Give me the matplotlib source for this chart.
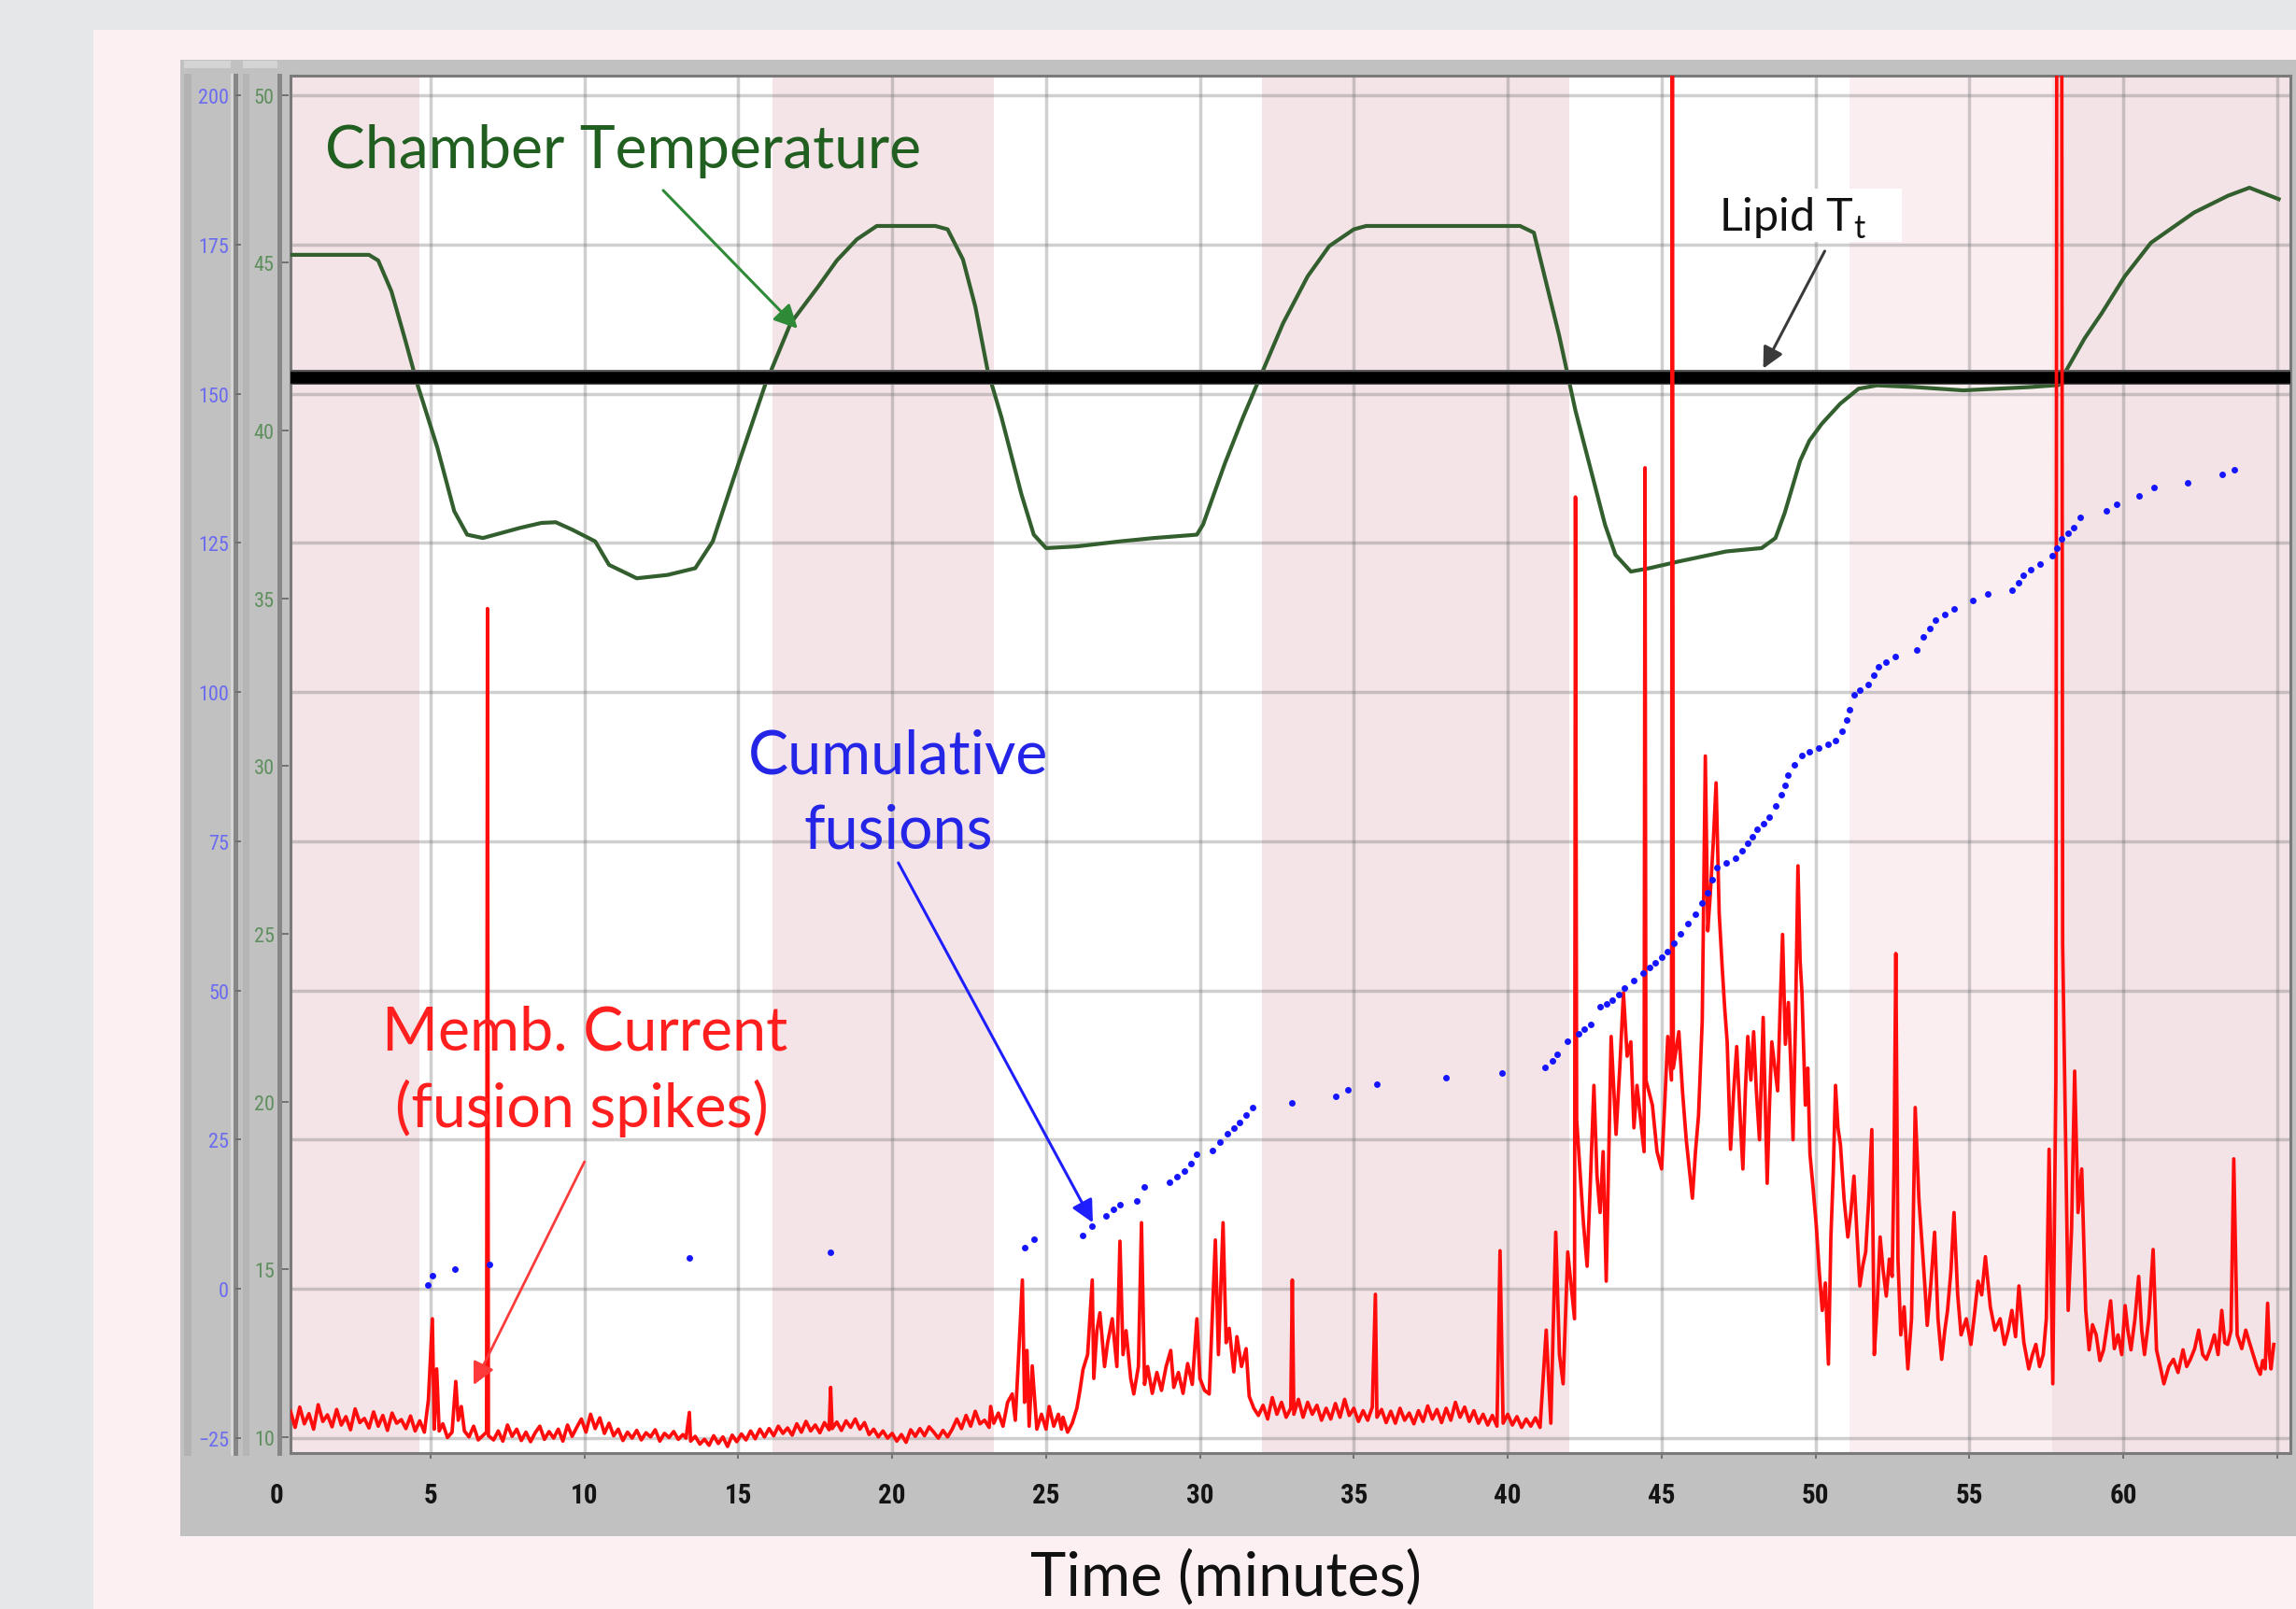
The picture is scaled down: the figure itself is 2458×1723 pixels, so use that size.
import matplotlib.pyplot as plt
from matplotlib.patches import Rectangle
from matplotlib import font_manager

W, H = 2458, 1724

# chamber temperature (deg C) vs time (min)
temp_t = [0.45, 3.0, 3.3, 3.73, 4.16, 4.58, 5.22, 5.77, 6.19, 6.7,
          7.9, 8.6, 9.07, 9.6, 10.35, 10.8, 11.7, 12.7, 13.6, 14.17,
          15.0, 15.87, 16.7, 17.6, 18.2, 18.85, 19.5, 21.4, 21.8, 22.3,
          22.7, 23.1, 23.55, 24.2, 24.6, 25.0, 26.0, 27.4, 28.5, 29.9,
          30.1, 30.8, 31.4, 32.05, 32.7, 33.5, 34.2, 35.0, 35.4, 40.4,
          40.85, 41.67, 42.2, 42.85, 43.16, 43.5, 44.0, 44.6, 45.55, 47.1,
          48.25, 48.7, 49.0, 49.5, 49.8, 50.2, 50.8, 51.4, 52.0, 53.2,
          54.8, 57.0, 57.9, 58.15, 58.75, 59.3, 60.05, 60.9, 62.3, 63.4,
          64.1, 65.05]
temp_c = [45.24, 45.24, 45.07, 44.15, 42.76, 41.36, 39.5, 37.6, 36.9, 36.8,
          37.1, 37.25, 37.27, 37.05, 36.7, 36.0, 35.6, 35.7, 35.9, 36.7,
          39.0, 41.36, 43.2, 44.3, 45.07, 45.7, 46.1, 46.1, 46.0, 45.1,
          43.7, 41.8, 40.4, 38.1, 36.9, 36.5, 36.55, 36.7, 36.8, 36.9,
          37.2, 39.0, 40.4, 41.8, 43.2, 44.6, 45.5, 46.0, 46.1, 46.1,
          45.9, 42.84, 40.6, 38.3, 37.2, 36.3, 35.8, 35.9, 36.1, 36.4,
          36.5, 36.8, 37.55, 39.1, 39.7, 40.2, 40.8, 41.25, 41.35, 41.3,
          41.2, 41.3, 41.36, 41.8, 42.76, 43.5, 44.6, 45.6, 46.5, 47.0,
          47.24, 46.9]

# cumulative fusions
fus_t = [4.9, 5.07, 5.8, 6.9, 13.4, 18.0, 24.3, 24.6, 26.2, 26.5,
         26.95, 27.2, 27.4, 27.95, 28.2, 29.0, 29.25, 29.5, 29.7, 29.9,
         30.4, 30.65, 30.9, 31.1, 31.3, 31.5, 31.7, 33.0, 34.4, 34.8,
         35.75, 38.0, 39.8, 41.2, 41.45, 41.6, 41.95, 42.3, 42.5, 42.7,
         43.0, 43.2, 43.4, 43.6, 43.8, 44.1, 44.4, 44.6, 44.8, 45.0,
         45.2, 45.4, 45.6, 45.85, 46.1, 46.3, 46.5, 46.65, 46.8, 47.1,
         47.4, 47.6, 47.8, 47.95, 48.1, 48.3, 48.5, 48.7, 48.9, 49.0,
         49.1, 49.3, 49.55, 49.8, 50.1, 50.4, 50.65, 50.85, 51.0, 51.1,
         51.25, 51.45, 51.7, 51.9, 52.05, 52.3, 52.6, 53.3, 53.5, 53.7,
         53.9, 54.2, 54.5, 55.1, 55.6, 56.4, 56.6, 56.75, 57.0, 57.3,
         57.7, 57.85, 58.0, 58.2, 58.4, 58.6, 59.45, 59.8, 60.5, 61.0,
         62.1, 63.2, 63.6]
fus_n = [0.6, 2.2, 3.3, 4.1, 5.2, 6.1, 6.9, 8.4, 9.0, 10.6,
         12.2, 13.3, 14.2, 14.7, 17.1, 17.8, 18.8, 19.7, 21.0, 22.5,
         23.2, 24.6, 26.0, 27.0, 27.9, 29.2, 30.4, 31.1, 32.2, 33.3,
         34.3, 35.4, 36.2, 37.2, 38.2, 39.3, 41.5, 42.7, 43.5, 44.3,
         47.3, 47.8, 48.4, 49.4, 50.4, 51.7, 52.9, 53.8, 54.6, 55.6,
         56.6, 58.0, 59.5, 61.2, 62.8, 64.6, 66.4, 68.5, 70.6, 71.4,
         72.1, 73.4, 74.6, 75.8, 77.0, 78.0, 79.0, 80.9, 82.8, 84.4,
         86.1, 87.8, 89.4, 90.0, 90.6, 91.2, 91.9, 93.4, 95.3, 97.0,
         99.5, 100.4, 101.3, 102.8, 104.2, 105.0, 105.9, 107.0, 109.2, 110.6,
         112.0, 113.0, 113.9, 115.3, 116.4, 117.1, 118.4, 119.6, 120.5, 121.4,
         122.8, 124.2, 125.7, 126.6, 127.5, 129.3, 130.4, 131.5, 132.9, 134.3,
         135.1, 136.5, 137.2]

# membrane current (arbitrary units)
cur_t = [0.45, 0.6, 0.75, 0.9, 1.05, 1.2, 1.35, 1.5, 1.65, 1.8,
         1.95, 2.1, 2.25, 2.4, 2.55, 2.7, 2.85, 3.0, 3.15, 3.3,
         3.45, 3.6, 3.75, 3.9, 4.05, 4.2, 4.35, 4.5, 4.65, 4.8,
         4.93, 5.06, 5.12, 5.2, 5.28, 5.4, 5.55, 5.7, 5.82, 5.9,
         6.0, 6.1, 6.25, 6.4, 6.55, 6.82, 6.85, 6.88, 7.05, 7.2,
         7.35,
         7.5, 7.65, 7.8, 7.95, 8.1, 8.25, 8.4, 8.55, 8.7, 8.85,
         9.0, 9.15, 9.3, 9.45, 9.6, 9.75, 9.9, 10.05, 10.2, 10.35,
         10.5, 10.65, 10.8, 10.95, 11.1, 11.25, 11.4, 11.55, 11.7, 11.85,
         12.0, 12.15, 12.3, 12.45, 12.6, 12.75, 12.9, 13.05, 13.2, 13.3,
         13.41, 13.45, 13.6, 13.75, 13.9, 14.05, 14.2, 14.35, 14.5, 14.65,
         14.8, 14.95, 15.1, 15.25, 15.4, 15.55, 15.7, 15.85, 16.0, 16.15,
         16.3, 16.45, 16.6, 16.75, 16.9, 17.05, 17.2, 17.35, 17.5, 17.65,
         17.8, 17.95, 18.0, 18.05, 18.2, 18.35, 18.5, 18.65, 18.8, 18.95,
         19.1, 19.25, 19.4, 19.55, 19.7, 19.85, 20.0, 20.15, 20.3, 20.45,
         20.6, 20.75, 20.9, 21.05, 21.2, 21.35, 21.5, 21.65, 21.8, 21.95,
         22.1, 22.25, 22.4, 22.55, 22.7, 22.85, 23.0, 23.15, 23.2, 23.3,
         23.45, 23.6, 23.75, 23.9, 24.0, 24.1, 24.23, 24.3, 24.38, 24.45,
         24.55, 24.7, 24.85, 25.0, 25.1, 25.25, 25.4, 25.5, 25.55, 25.7,
         25.85, 26.0,
         26.1, 26.2, 26.35, 26.5, 26.55, 26.65, 26.75, 26.9, 27.0, 27.15,
         27.3, 27.4, 27.5, 27.6, 27.75, 27.85, 28.0, 28.1, 28.2, 28.3,
         28.45, 28.6, 28.75, 28.9, 29.05, 29.15, 29.3, 29.45, 29.6, 29.75,
         29.9, 30.0, 30.15, 30.3, 30.5, 30.6, 30.75, 30.85, 30.95, 31.1,
         31.2, 31.35, 31.5, 31.6, 31.75, 31.9,
         32.05, 32.2, 32.35, 32.5, 32.65, 32.8, 32.95, 33.0, 33.05, 33.2,
         33.35, 33.5, 33.65, 33.8, 33.95, 34.1, 34.25, 34.4, 34.55, 34.7,
         34.85, 35.0, 35.15, 35.3, 35.45, 35.6, 35.7, 35.75, 35.9, 36.05,
         36.2, 36.35, 36.5, 36.65, 36.8, 36.95, 37.1, 37.25, 37.4, 37.55,
         37.7, 37.85, 38.0, 38.15, 38.3, 38.45, 38.6, 38.75, 38.9, 39.05,
         39.2, 39.35, 39.5, 39.65, 39.75, 39.85, 40.0, 40.15, 40.3, 40.45,
         40.6, 40.75, 40.9, 41.05,
         41.25, 41.4, 41.48, 41.56, 41.68, 41.8, 41.95, 42.17, 42.2, 42.24,
         42.46, 42.58, 42.7, 42.8, 42.9, 43.0, 43.1, 43.2, 43.36, 43.52,
         43.64, 43.76, 43.88, 44.0, 44.1, 44.2, 44.43, 44.46, 44.49, 44.7,
         44.85, 45.0, 45.1, 45.2, 45.32, 45.35, 45.38, 45.56, 45.68, 45.8,
         46.0, 46.1, 46.2, 46.32, 46.42, 46.5, 46.58, 46.68, 46.77, 46.87,
         46.97, 47.05, 47.13, 47.24, 47.34, 47.44, 47.54, 47.64, 47.72, 47.8,
         47.9, 47.99, 48.08, 48.18, 48.3, 48.43, 48.5, 48.58, 48.68, 48.77,
         48.85, 48.93, 49.02, 49.12, 49.2, 49.27, 49.35, 49.43, 49.5, 49.56,
         49.67, 49.75, 49.82, 49.92, 50.03, 50.12, 50.22, 50.32, 50.42, 50.5,
         50.58, 50.65, 50.73, 50.81, 50.93, 51.05, 51.15, 51.25, 51.35, 51.44,
         51.54, 51.63, 51.73, 51.83, 51.91, 52.0, 52.1, 52.2, 52.3, 52.4,
         52.49, 52.55, 52.61, 52.68, 52.77, 52.88, 53.0, 53.12, 53.24, 53.36,
         53.48, 53.56, 53.63, 53.75, 53.87, 53.98, 54.1, 54.2, 54.29, 54.4,
         54.5, 54.62, 54.73, 54.9, 55.05, 55.17, 55.28, 55.4, 55.52, 55.68,
         55.83, 56.0, 56.14, 56.26, 56.38, 56.5, 56.61, 56.77, 56.93, 57.05,
         57.16, 57.28, 57.4, 57.5, 57.59, 57.71, 57.81, 57.84, 57.92, 58.0,
         58.03, 58.21, 58.32, 58.42, 58.53, 58.65, 58.78, 58.89, 59.0, 59.12,
         59.24, 59.36, 59.48, 59.59, 59.71, 59.83, 59.95, 60.06, 60.15, 60.25,
         60.38, 60.5, 60.6, 60.69, 60.83, 60.97, 61.08, 61.2, 61.32, 61.48,
         61.63, 61.78, 61.94, 62.06, 62.18, 62.32, 62.45, 62.58, 62.7, 62.83,
         62.96, 63.08, 63.2, 63.3, 63.39, 63.5, 63.59, 63.7, 63.85, 63.98,
         64.1, 64.22, 64.34, 64.45, 64.53, 64.61, 64.69, 64.75, 64.8, 64.89]
cur_v = [4.5, 1.8, 5.2, 2.4, 4.1, 1.5, 5.6, 2.8, 3.9, 1.9,
         4.8, 2.2, 3.6, 1.4, 4.9, 2.6, 3.3, 1.7, 4.4, 2.0,
         3.8, 1.3, 4.2, 2.5, 3.1, 1.6, 3.7, 1.2, 2.9, 1.0,
         6.4, 20.0, 1.5, 11.6, 1.2, 2.4, 0.1, 1.0, 9.5, 3.0,
         5.3, 1.2, 0.2, 2.0, -0.3, 1.0, 139.0, 0.4, -0.3, 1.2,
         -0.5,
         2.2, 0.3, 1.5, -0.4, 1.0, -0.6, 0.9, 2.0, -0.2, 1.1,
         0.0, 1.5, -0.5, 2.2, 0.3, 1.8, 3.2, 1.0, 4.0, 1.6,
         3.4, 0.8, 2.5, 0.4, 1.5, -0.4, 1.0, 0.0, 1.3, -0.3,
         0.9, 0.2, 1.4, -0.5, 0.8, 0.1, 1.1, -0.2, 0.6, 0.0,
         4.3, -0.5, 0.3, -1.0, -0.2, -1.2, 0.4, -0.9, 0.2, -1.4,
         0.5, -0.6, 0.7, -0.3, 1.2, -0.1, 1.5, 0.2, 1.6, 0.4,
         2.0, 0.8, 1.7, 0.5, 2.4, 1.0, 2.8, 1.2, 2.2, 0.9,
         2.6, 1.4, 8.5, 1.6, 2.7, 1.3, 2.9, 1.8, 3.2, 1.5,
         2.6, 0.6, 1.5, 0.2, 1.2, 0.0, 0.8, -0.5, 0.6, -0.7,
         1.4, 0.3, 1.6, 0.4, 1.9, 1.0, 0.0, 1.3, 0.2, 1.5,
         3.2, 1.6, 3.8, 2.0, 4.5, 2.4, 3.0, 1.8, 5.3, 2.5,
         4.2, 2.0, 6.0, 7.4, 3.0, 13.0, 26.5, 6.0, 14.7, 2.0,
         12.1, 1.5, 4.0, 1.5, 5.3, 2.0, 4.0, 1.5, 3.5, 1.0,
         2.5, 5.0,
         8.0, 11.5, 14.0, 26.5, 10.0, 18.0, 21.0, 12.0, 16.0, 20.0,
         12.0, 33.0, 14.0, 18.0, 10.0, 7.4, 12.0, 36.1, 9.0, 12.0,
         7.5, 11.0, 8.0, 12.0, 14.7, 8.5, 11.0, 7.5, 12.5, 9.0,
         20.0, 10.0, 8.0, 7.4, 33.2, 14.0, 36.1, 16.0, 18.4, 11.1,
         17.0, 12.0, 15.0, 7.0, 5.0, 3.8,
         5.5, 3.2, 6.8, 4.0, 6.0, 3.5, 5.0, 26.5, 4.0, 6.5,
         3.5, 6.0, 4.0, 5.5, 3.0, 5.0, 3.2, 5.8, 3.5, 6.5,
         3.8, 5.0, 2.8, 4.6, 3.0, 5.2, 24.1, 3.5, 4.8, 2.6,
         4.5, 2.5, 5.0, 3.0, 4.2, 2.4, 4.6, 2.8, 5.4, 3.2,
         4.8, 2.6, 5.0, 3.0, 6.0, 3.5, 5.2, 2.8, 4.6, 2.5,
         4.0, 2.2, 3.8, 2.0, 31.4, 2.5, 4.0, 2.2, 3.6, 1.8,
         3.2, 2.0, 3.4, 1.8,
         18.1, 2.5, 19.0, 34.5, 14.0, 9.1, 31.2, 20.0, 157.7, 53.3,
         36.0, 28.8, 45.0, 59.1, 44.0, 37.8, 48.0, 26.3, 67.3, 50.9,
         62.0, 74.6, 64.0, 66.4, 52.0, 59.1, 48.0, 162.6, 60.0, 55.8,
         48.0, 45.1, 56.0, 67.3, 60.0, 240.0, 62.0, 68.1, 58.0, 50.0,
         40.2, 48.0, 54.1, 70.0, 114.3, 85.0, 91.0, 100.0, 109.8, 88.0,
         78.7, 72.0, 66.4, 48.4, 58.0, 65.6, 55.0, 45.1, 58.0, 67.3,
         60.0, 68.1, 58.0, 50.0, 70.5, 42.7, 55.0, 66.4, 62.0, 58.2,
         72.0, 84.4, 66.0, 73.0, 62.0, 50.0, 70.0, 95.9, 80.0, 74.6,
         55.8, 62.0, 47.6, 42.0, 35.3, 28.0, 21.4, 26.0, 12.4, 33.7,
         45.0, 59.1, 52.0, 49.2, 40.0, 33.7, 38.0, 43.9, 34.0, 25.5,
         29.0, 31.2, 40.0, 51.7, 14.0, 22.0, 33.7, 28.0, 23.8, 30.0,
         27.1, 45.0, 81.2, 30.0, 17.3, 22.0, 11.6, 20.0, 55.4, 40.0,
         31.2, 25.0, 18.9, 26.0, 34.5, 20.0, 13.2, 18.0, 21.4, 28.0,
         37.8, 24.0, 17.3, 20.0, 15.7, 21.0, 26.3, 24.0, 30.4, 22.0,
         18.1, 20.0, 15.7, 18.0, 21.4, 17.0, 25.5, 16.0, 11.6, 14.0,
         15.7, 12.0, 14.0, 20.0, 48.4, 9.1, 60.0, 240.0, 240.0, 240.0,
         82.8, 21.4, 35.0, 61.5, 37.8, 45.1, 21.4, 14.8, 19.0, 17.3,
         13.0, 14.8, 19.0, 23.0, 15.0, 17.3, 14.0, 22.2, 18.0, 14.8,
         20.0, 27.1, 18.0, 14.0, 20.0, 31.6, 14.8, 12.0, 9.1, 12.0,
         13.2, 11.0, 14.8, 12.0, 13.2, 15.0, 18.1, 14.0, 13.2, 15.0,
         17.3, 14.0, 21.4, 16.0, 15.7, 18.0, 46.8, 17.3, 15.0, 18.1,
         16.0, 14.0, 12.0, 10.7, 13.0, 11.6, 22.6, 14.0, 11.6, 15.7]
assert len(cur_t) == len(cur_v)

lipid_tt = 41.6
bands = [(0.45, 4.64, '#f4e4e8'), (16.1, 23.3, '#f4e4e8'), (32.0, 42.0, '#f4e4e8'),
         (51.1, 57.7, '#faeef1'), (57.7, 65.5, '#f3e3e6')]

t_lim = (0.45, 65.43)
temp_lim = (9.53, 50.58)
fus_lim = (-27.5, 203.3)
cur_lim = (-2.5, 228.3)


def has_font(name):
    try:
        font_manager.findfont(font_manager.FontProperties(family=name),
                              fallback_to_default=False)
        return True
    except Exception:
        return False


narrow = 'DejaVu Sans'
for cand in ['Liberation Sans Narrow', 'Roboto Condensed', 'Liberation Sans']:
    if has_font(cand):
        narrow = cand
        break
label_font = 'Lato'

fig = plt.figure(figsize=(W / 100, H / 100), dpi=100)
fig.patch.set_facecolor('#e6e7e9')


def frect(x0, y0, x1, y1, color, z=-2):
    fig.add_artist(Rectangle((x0 / W, 1 - y1 / H), (x1 - x0) / W, (y1 - y0) / H,
                             transform=fig.transFigure, facecolor=color,
                             edgecolor='none', zorder=z))


# panel, grey chart box and axis strips
frect(100, 33, W, H, '#fcf0f3')
frect(193, 65, W, 1646, '#c1c1c1')
frect(197, 80, 205, 1560, '#b3b3b3', -1.5)
frect(247, 80, 250, 1560, '#d6d6d6', -1.5)
frect(250, 80, 255, 1560, '#878787', -1.5)
frect(260, 80, 267, 1560, '#b5b5b5', -1.5)
frect(297, 80, 302, 1560, '#878787', -1.5)
frect(197, 66, 247, 74, '#d4d4d4', -1.5)
frect(260, 66, 297, 74, '#d4d4d4', -1.5)

rect = [311 / W, 1 - 1557 / H, (2452 - 311) / W, (1557 - 82) / H]
ax_g = fig.add_axes(rect)
ax_t = fig.add_axes(rect, frameon=False)
ax_c = fig.add_axes(rect, frameon=False)
ax_d = fig.add_axes(rect, frameon=False, sharex=ax_g, sharey=ax_g)

# ground axes: bands, grid, x ticks
ax_g.set_facecolor('white')
ax_g.set_xlim(t_lim)
ax_g.set_ylim(fus_lim)
for a, b, c in bands:
    ax_g.axvspan(a, b, color=c, lw=0, zorder=0)
for s in ax_g.spines.values():
    s.set_color('#7a7a7a')
    s.set_linewidth(2.2)
ax_g.set_axisbelow(True)
ax_g.set_xticks(range(5, 66, 5))
ax_g.set_xticklabels([str(v) for v in range(5, 61, 5)] + [''])
ax_g.set_yticks(range(-25, 201, 25))
ax_g.grid(True, color='#6e6e6e', alpha=0.33, lw=2.5)
ax_g.tick_params(axis='y', length=0, labelleft=False)
ax_g.tick_params(axis='x', direction='out', length=4.3, width=1.4, color='#6f6f6f',
                 labelsize=21, pad=18)
for lab in ax_g.get_xticklabels():
    lab.set_fontfamily(narrow)
    lab.set_fontweight('bold')
    lab.set_color('#141414')

# temperature axes
ax_t.set_xlim(t_lim)
ax_t.set_ylim(temp_lim)
ax_t.set_yticks(range(10, 51, 5))
ax_t.spines['left'].set_position(('outward', 1.4))
ax_t.tick_params(axis='x', bottom=False, labelbottom=False)
ax_t.tick_params(axis='y', direction='out', length=5, width=1.4, color='#707070',
                 labelcolor='#5f8f5f', labelsize=16, pad=6)
for lab in ax_t.get_yticklabels():
    lab.set_fontfamily(narrow)
ax_t.plot(temp_t, temp_c, color='#335f2e', lw=3, zorder=3, solid_joinstyle='round')
ax_t.axhline(lipid_tt, color='#5a5a5a', lw=11.5, zorder=4)
ax_t.axhline(lipid_tt, color='black', lw=9, zorder=4.1)
ax_t.add_patch(Rectangle((46.07, 45.63), 6.73, 1.58, facecolor='white',
                         edgecolor='none', zorder=2))
txt_chamber = ax_t.text(1.58, 47.86, 'Chamber Temperature', color='#215f21',
                        fontfamily=label_font, fontsize=46, ha='left', va='baseline')
txt_lipid = ax_t.text(46.86, 45.96, r'Lipid T$_\mathregular{t}$', color='#111111',
                      fontfamily=label_font, fontsize=38, ha='left', va='baseline')
ax_t.annotate('', xy=(16.93, 43.04), xytext=(12.56, 47.16),
              arrowprops=dict(arrowstyle='-|>', color='#2f8a37', lw=2.2,
                              mutation_scale=38, shrinkA=0, shrinkB=0), zorder=5)
ax_t.annotate('', xy=(48.3, 41.85), xytext=(50.3, 45.35),
              arrowprops=dict(arrowstyle='-|>', color='#3a3a3a', lw=2.2,
                              mutation_scale=34, shrinkA=0, shrinkB=0), zorder=5)

# membrane current axes
ax_c.set_xlim(t_lim)
ax_c.set_ylim(cur_lim)
ax_c.set_axis_off()
ax_c.plot(cur_t, cur_v, color='#ff0d0d', lw=2.7, zorder=3)
txt_memb1 = ax_c.text(10.0, 65.2, 'Memb. Current', color='#ff1f1f',
                      fontfamily=label_font, fontsize=40, ha='center', va='baseline')
txt_memb2 = ax_c.text(9.92, 52.2, '(fusion spikes)', color='#ff1f1f',
                      fontfamily=label_font, fontsize=40, ha='center', va='baseline')
ax_c.annotate('', xy=(6.4, 8.9), xytext=(10.0, 46.3),
              arrowprops=dict(arrowstyle='-|>', color='#ff3a3a', lw=2.0,
                              mutation_scale=36, shrinkA=0, shrinkB=0))

# cumulative fusions axes (blue scale labels)
ax_d.spines['left'].set_position(('outward', 38.2))
ax_d.tick_params(axis='x', bottom=False, labelbottom=False)
ax_d.tick_params(axis='y', direction='out', length=4.3, width=1.4, color='#707070',
                 labelcolor='#6b6bf0', labelsize=16, pad=5)
for lab in ax_d.get_yticklabels():
    lab.set_fontfamily(narrow)
ax_d.plot(fus_t, fus_n, 'o', ms=5, color='#1515ff', mec='none', zorder=3)
txt_cum1 = ax_d.text(20.2, 86.5, 'Cumulative', color='#2525e8',
                     fontfamily=label_font, fontsize=40, ha='center', va='baseline')
txt_cum2 = ax_d.text(20.2, 73.9, 'fusions', color='#2525e8',
                     fontfamily=label_font, fontsize=40, ha='center', va='baseline')
ax_d.annotate('', xy=(26.52, 11.1), xytext=(20.2, 71.4),
              arrowprops=dict(arrowstyle='-|>', color='#1e1eff', lw=2.2,
                              mutation_scale=36, shrinkA=0, shrinkB=0))

txt_time = fig.text(1312 / W, 0.0, 'Time (minutes)', color='#111111',
                    fontfamily=label_font, fontsize=44, ha='center', va='baseline')

# size the annotation texts to the widths seen in the original
renderer = fig.canvas.get_renderer()


def fit_width(txt, target):
    for _ in range(3):
        w = txt.get_window_extent(renderer).width
        txt.set_fontsize(txt.get_fontsize() * target / w)


fit_width(txt_chamber, 638)
fit_width(txt_lipid, 158)
fit_width(txt_memb1, 434)
txt_memb2.set_fontsize(txt_memb1.get_fontsize())
fit_width(txt_cum1, 321)
txt_cum2.set_fontsize(txt_cum1.get_fontsize())
fit_width(txt_time, 419)
# keep the axis title just inside the bottom edge
txt_time.set_y(1 - 1708 / H)

# '0' label sits left of the plot frame, outside the x range
fig.canvas.draw()
ref = ax_g.get_xticklabels()[0].get_window_extent(renderer)
x0 = ax_g.transData.transform((0, 0))[0]
fig.text(x0 / fig.bbox.width, ref.y1 / fig.bbox.height, '0', ha='center', va='top',
         fontfamily=narrow, fontweight='bold', fontsize=21, color='#141414')

fig.savefig('out.png', dpi=100, facecolor=fig.get_facecolor())
